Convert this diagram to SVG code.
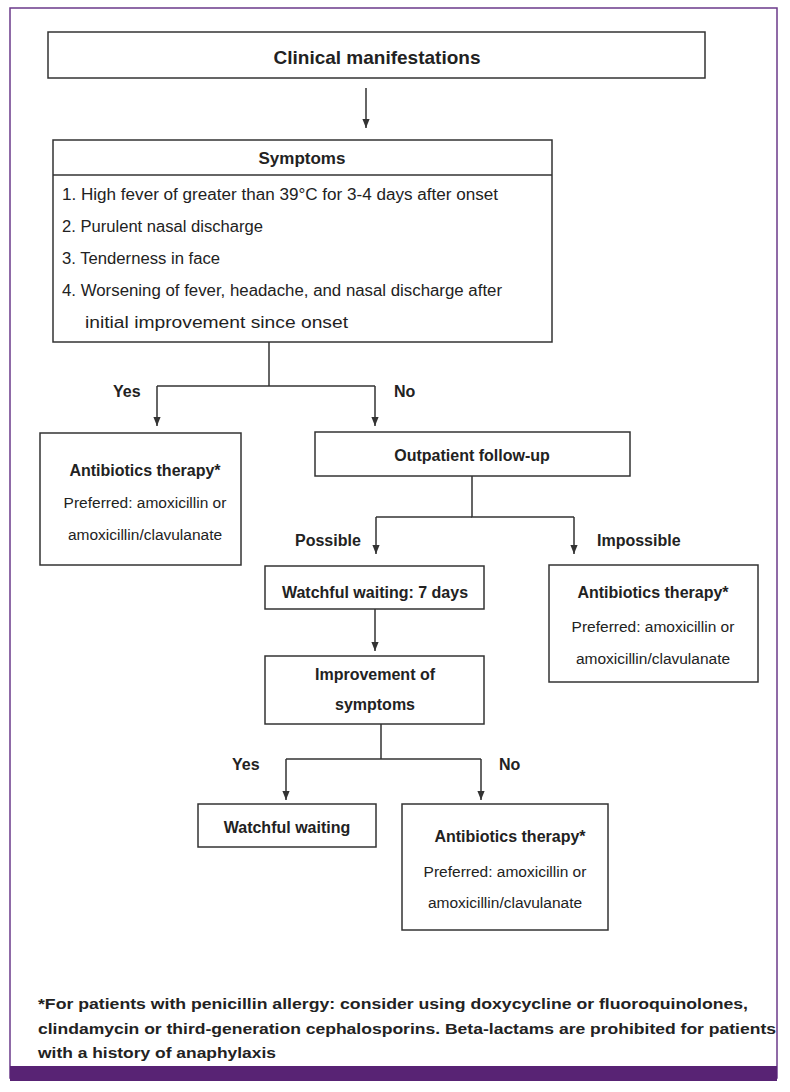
<svg xmlns="http://www.w3.org/2000/svg" width="790" height="1092" viewBox="0 0 790 1092">
<defs>
<marker id="arr" viewBox="0 0 10 10" refX="10" refY="5" markerWidth="9" markerHeight="9" orient="auto" markerUnits="userSpaceOnUse">
<path d="M0,1 L10,5 L0,9 Z" fill="#333"/>
</marker>
<style>
.box{fill:#fff;stroke:#333;stroke-width:1.5}
.ln{fill:none;stroke:#333;stroke-width:1.5}
.b{font-family:"Liberation Sans",Arial,sans-serif;font-weight:bold;fill:#222}
.r{font-family:"Liberation Sans",Arial,sans-serif;fill:#222}
</style>
</defs>
<rect x="0" y="0" width="790" height="1092" fill="#fff"/>
<rect x="10" y="8" width="767" height="1070" fill="none" stroke="#6b3a8a" stroke-width="1.5"/>
<rect x="10" y="1066" width="767" height="15" fill="#582374"/>

<g id="connectors">
<line class="ln" x1="366" y1="88" x2="366" y2="128" marker-end="url(#arr)"/>
<path class="ln" d="M269,342 V386"/>
<path class="ln" d="M157,386 H375"/>
<line class="ln" x1="157" y1="386" x2="157" y2="426" marker-end="url(#arr)"/>
<line class="ln" x1="375" y1="386" x2="375" y2="426" marker-end="url(#arr)"/>
<path class="ln" d="M472,476 V517 H574"/>
<path class="ln" d="M376,517 H472"/>
<line class="ln" x1="376" y1="517" x2="376" y2="554" marker-end="url(#arr)"/>
<line class="ln" x1="574" y1="517" x2="574" y2="554" marker-end="url(#arr)"/>
<line class="ln" x1="375" y1="609" x2="375" y2="651" marker-end="url(#arr)"/>
<path class="ln" d="M381,724 V759 H286 M381,759 H481"/>
<line class="ln" x1="286" y1="759" x2="286" y2="800" marker-end="url(#arr)"/>
<line class="ln" x1="481" y1="759" x2="481" y2="800" marker-end="url(#arr)"/>
<text class="b" x="113" y="397" font-size="16">Yes</text>
<text class="b" x="394" y="397" font-size="16">No</text>
<text class="b" x="295" y="546" font-size="16">Possible</text>
<text class="b" x="597" y="546" font-size="16">Impossible</text>
<text class="b" x="232" y="770" font-size="16">Yes</text>
<text class="b" x="499" y="770" font-size="16">No</text>
</g>

<g id="clinical">
<rect class="box" x="48" y="32" width="657" height="46"/>
<text class="b" x="377" y="64" font-size="19" text-anchor="middle">Clinical manifestations</text>
</g>

<g id="symptoms">
<rect class="box" x="53" y="140" width="499" height="202"/>
<line class="ln" x1="53" y1="175" x2="552" y2="175"/>
<text class="b" x="302" y="164" font-size="17" text-anchor="middle">Symptoms</text>
<text class="r" x="62" y="200" font-size="16" textLength="436" lengthAdjust="spacingAndGlyphs">1. High fever of greater than 39°C for 3-4 days after onset</text>
<text class="r" x="62" y="232" font-size="16" textLength="201" lengthAdjust="spacingAndGlyphs">2. Purulent nasal discharge</text>
<text class="r" x="62" y="264" font-size="16" textLength="158" lengthAdjust="spacingAndGlyphs">3. Tenderness in face</text>
<text class="r" x="62" y="296" font-size="16" textLength="440" lengthAdjust="spacingAndGlyphs">4. Worsening of fever, headache, and nasal discharge after</text>
<text class="r" x="85" y="328" font-size="16" textLength="263" lengthAdjust="spacingAndGlyphs">initial improvement since onset</text>
</g>

<g id="abx1">
<rect class="box" x="40" y="433" width="201" height="132"/>
<text class="b" x="145" y="476" font-size="16" text-anchor="middle">Antibiotics therapy*</text>
<text class="r" x="145" y="508" font-size="15.5" text-anchor="middle">Preferred: amoxicillin or</text>
<text class="r" x="145" y="540" font-size="15.5" text-anchor="middle">amoxicillin/clavulanate</text>
</g>

<g id="outpatient">
<rect class="box" x="315" y="432" width="315" height="44"/>
<text class="b" x="472" y="461" font-size="16" text-anchor="middle">Outpatient follow-up</text>
</g>

<g id="watch7">
<rect class="box" x="265" y="566" width="219" height="43"/>
<text class="b" x="375" y="598" font-size="16" text-anchor="middle">Watchful waiting: 7 days</text>
</g>

<g id="abx2">
<rect class="box" x="549" y="565" width="209" height="117"/>
<text class="b" x="653" y="598" font-size="16" text-anchor="middle">Antibiotics therapy*</text>
<text class="r" x="653" y="632" font-size="15.5" text-anchor="middle">Preferred: amoxicillin or</text>
<text class="r" x="653" y="664" font-size="15.5" text-anchor="middle">amoxicillin/clavulanate</text>
</g>

<g id="improve">
<rect class="box" x="265" y="656" width="219" height="68"/>
<text class="b" x="375" y="680" font-size="16" text-anchor="middle">Improvement of</text>
<text class="b" x="375" y="710" font-size="16" text-anchor="middle">symptoms</text>
</g>

<g id="watch">
<rect class="box" x="198" y="804" width="178" height="43"/>
<text class="b" x="287" y="833" font-size="16" text-anchor="middle">Watchful waiting</text>
</g>

<g id="abx3">
<rect class="box" x="402" y="804" width="206" height="126"/>
<text class="b" x="510" y="842" font-size="16" text-anchor="middle">Antibiotics therapy*</text>
<text class="r" x="505" y="877" font-size="15.5" text-anchor="middle">Preferred: amoxicillin or</text>
<text class="r" x="505" y="908" font-size="15.5" text-anchor="middle">amoxicillin/clavulanate</text>
</g>

<g id="footnote">
<text class="b" x="38" y="1009" font-size="15.5" textLength="710" lengthAdjust="spacingAndGlyphs">*For patients with penicillin allergy: consider using doxycycline or fluoroquinolones,</text>
<text class="b" x="38" y="1034" font-size="15.5" textLength="738" lengthAdjust="spacingAndGlyphs">clindamycin or third-generation cephalosporins. Beta-lactams are prohibited for patients</text>
<text class="b" x="38" y="1058" font-size="15.5" textLength="238" lengthAdjust="spacingAndGlyphs">with a history of anaphylaxis</text>
</g>
</svg>
